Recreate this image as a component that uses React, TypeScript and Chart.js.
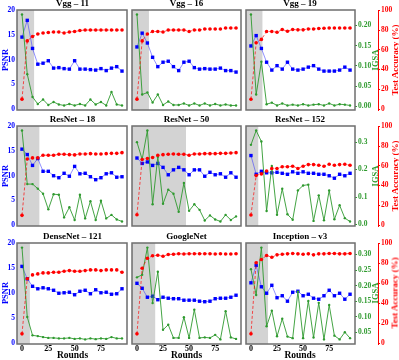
import React, { useEffect, useRef } from "react";
import { Chart, registerables } from "chart.js";

Chart.register(...registerables);

const SERIF = '"Liberation Serif", "Times New Roman", serif';

const rounds = [0, 5, 10, 15, 20, 25, 30, 35, 40, 45, 50, 55, 60, 65, 70, 75, 80, 85, 90, 95];
const roundTicks = [0, 25, 50, 75];
const psnrTicks = [0, 5, 10, 15, 20];
const accTicks = [0, 20, 40, 60, 80, 100];

// Vgg-11
const vgg11Psnr = [14.6, 18.0, 12.3, 9.1, 9.3, 9.8, 8.3, 8.4, 8.2, 8.1, 9.8, 8.1, 8.1, 8.0, 7.9, 8.2, 7.8, 8.3, 8.6, 7.7];
const vgg11Acc = [10, 69, 73.5, 76, 77, 77.5, 78, 78, 77, 78, 78.5, 79.5, 80, 80, 80, 80, 80, 80, 80, 80];
const vgg11Igsa = [0.192, 0.072, 0.026, 0.012, 0.021, 0.010, 0.016, 0.011, 0.009, 0.012, 0.009, 0.012, 0.009, 0.021, 0.011, 0.016, 0.009, 0.036, 0.011, 0.009];
const vgg11Shade = 11.5;

// Vgg-16
const vgg16Psnr = [12.6, 15.4, 13.4, 10.5, 8.6, 9.5, 9.7, 8.6, 7.8, 9.5, 9.7, 8.4, 8.1, 8.2, 8.1, 8.1, 8.3, 7.8, 7.8, 7.5];
const vgg16Acc = [10, 69, 76, 78.5, 78.5, 78, 80, 80, 80, 80, 78.5, 80, 80, 81, 81, 81, 81, 82, 82, 82];
const vgg16Igsa = [0.192, 0.031, 0.035, 0.015, 0.031, 0.010, 0.017, 0.010, 0.010, 0.013, 0.009, 0.013, 0.009, 0.013, 0.009, 0.012, 0.009, 0.011, 0.009, 0.009];
const vgg16Shade = 11.5;

// Vgg-19
const vgg19Psnr = [12.8, 14.9, 12.3, 9.5, 7.9, 8.8, 8.1, 9.5, 8.1, 7.9, 8.1, 8.5, 8.8, 8.1, 7.7, 7.7, 7.7, 7.9, 8.5, 7.9];
const vgg19Acc = [9.9, 67.2, 70.5, 78.5, 78.5, 77.8, 80.5, 78.8, 80.5, 80.2, 80.2, 81.1, 81.1, 81.5, 81.8, 82.1, 82.1, 82.1, 82.1, 82.1];
const vgg19Igsa = [0.227, 0.029, 0.110, 0.005, 0.009, 0.002, 0.007, 0.002, 0.004, 0.002, 0.005, 0.002, 0.004, 0.005, 0.002, 0.007, 0.002, 0.005, 0.004, 0.002];
const vgg19Shade = 11;
const vgg19IgsaTicks = [0, 0.05, 0.1, 0.15, 0.2];

// ResNet-18
const res18Psnr = [15.4, 14.3, 12.1, 13.5, 10.9, 10.9, 10.0, 9.6, 10.5, 9.9, 11.9, 10.4, 10.5, 9.8, 9.2, 9.6, 10.4, 10.6, 9.7, 9.8];
const res18Acc = [9.8, 66.8, 68, 68, 70.7, 70.7, 70.7, 71.7, 71.7, 71.3, 71, 72, 72, 72.3, 72, 72, 72.3, 72.6, 72.6, 73.3];
const res18Igsa = [0.190, 0.084, 0.084, 0.075, 0.065, 0.034, 0.064, 0.063, 0.018, 0.038, 0.013, 0.063, 0.016, 0.050, 0.013, 0.051, 0.016, 0.023, 0.014, 0.010];
const res18Shade = 16.5;

// ResNet-50
const res50Psnr = [13.6, 12.5, 12.8, 12.1, 12.5, 11.7, 10.2, 11.2, 11.7, 11.2, 10.2, 11.2, 11.2, 9.9, 10.7, 10.2, 10.4, 9.7, 10.6, 9.7];
const res50Acc = [10.4, 66.4, 67.4, 68.4, 70.7, 71.3, 71.7, 72, 71.7, 71.7, 70.7, 72, 72, 72.3, 72.3, 72.3, 72.6, 72.6, 73, 73.3];
const res50Igsa = [0.167, 0.133, 0.190, 0.044, 0.138, 0.045, 0.073, 0.065, 0.029, 0.086, 0.031, 0.044, 0.033, 0.012, 0.022, 0.014, 0.010, 0.023, 0.013, 0.020];
const res50Shade = 47;

// ResNet-152
const res152Psnr = [14.1, 10.3, 10.9, 10.6, 10.6, 10.7, 10.5, 10.3, 10.8, 10.5, 10.8, 10.5, 10.5, 10.3, 10.3, 10.0, 9.5, 10.3, 10.0, 10.5];
const res152Acc = [10.1, 50.2, 51.8, 54.7, 57.3, 57.3, 59, 59, 59.6, 57.3, 59.6, 61.2, 61.2, 60.6, 59.6, 61.6, 60.6, 61.2, 61.6, 60.6];
const res152Igsa = [0.290, 0.342, 0.302, 0.049, 0.213, 0.035, 0.130, 0.037, 0.017, 0.124, 0.142, 0.145, 0.013, 0.106, 0.015, 0.124, 0.019, 0.070, 0.023, 0.011];
const res152Shade = 7;
const res152IgsaTicks = [0, 0.1, 0.2, 0.3];

// DenseNet-121
const dense121Psnr = [15.4, 12.9, 11.4, 10.9, 11.1, 10.9, 10.6, 10.0, 10.1, 10.2, 9.7, 10.4, 10.6, 9.9, 10.7, 10.1, 10.2, 9.8, 9.9, 10.9];
const dense121Acc = [9.2, 64.4, 68.3, 69.3, 70.3, 70.3, 71, 71, 72, 72.6, 72, 72, 72.6, 73.3, 73.3, 72.6, 73.3, 73.3, 73.3, 71];
const dense121Igsa = [0.190, 0.054, 0.018, 0.0165, 0.0145, 0.013, 0.013, 0.012, 0.012, 0.013, 0.011, 0.012, 0.010, 0.012, 0.0105, 0.012, 0.011, 0.0145, 0.012, 0.012];
const dense121Shade = 7.5;

// GoogleNet
const googlePsnr = [12.0, 11.0, 9.2, 9.4, 8.7, 9.2, 9.0, 8.9, 8.9, 8.6, 8.6, 8.6, 8.4, 8.3, 8.4, 8.9, 9.0, 9.0, 9.2, 9.6];
const googleAcc = [9.2, 75, 85, 87.5, 88, 87, 88.8, 89, 89.5, 89.3, 89.5, 89.5, 89.5, 89.5, 89.5, 89.3, 89.5, 89.3, 89.3, 89.5];
const googleIgsa = [0.132, 0.137, 0.191, 0.081, 0.143, 0.028, 0.038, 0.012, 0.012, 0.053, 0.012, 0.068, 0.012, 0.013, 0.012, 0.018, 0.009, 0.065, 0.013, 0.010];
const googleShade = 17.5;

// Inception-v3
const incepPsnr = [12.1, 15.6, 11.3, 10.0, 11.6, 9.1, 9.5, 8.4, 10.2, 10.4, 9.5, 9.8, 9.0, 8.8, 9.5, 10.6, 9.5, 10.0, 8.8, 9.8];
const incepAcc = [9.2, 80.5, 83.8, 87.8, 86, 88.4, 89, 89.4, 89.8, 89.4, 89, 89.4, 88.4, 89.4, 89.4, 89.8, 89.8, 89.4, 89.4, 89.8];
const incepIgsa = [0.253, 0.170, 0.322, 0.070, 0.120, 0.038, 0.094, 0.037, 0.032, 0.181, 0.032, 0.151, 0.034, 0.145, 0.028, 0.138, 0.040, 0.028, 0.051, 0.032];
const incepShade = 16.4;
const incepIgsaTicks = [0.05, 0.1, 0.15, 0.2, 0.25, 0.3];

type PanelData = {
  title: string;
  psnr: number[];
  acc: number[];
  igsa: number[];
  shade: number;
  igsaTicks: number[];
  igsaDigits: number;
};

const panels: PanelData[] = [
  { title: "Vgg – 11", psnr: vgg11Psnr, acc: vgg11Acc, igsa: vgg11Igsa, shade: vgg11Shade, igsaTicks: [], igsaDigits: 2 },
  { title: "Vgg – 16", psnr: vgg16Psnr, acc: vgg16Acc, igsa: vgg16Igsa, shade: vgg16Shade, igsaTicks: [], igsaDigits: 2 },
  { title: "Vgg – 19", psnr: vgg19Psnr, acc: vgg19Acc, igsa: vgg19Igsa, shade: vgg19Shade, igsaTicks: vgg19IgsaTicks, igsaDigits: 2 },
  { title: "ResNet – 18", psnr: res18Psnr, acc: res18Acc, igsa: res18Igsa, shade: res18Shade, igsaTicks: [], igsaDigits: 2 },
  { title: "ResNet – 50", psnr: res50Psnr, acc: res50Acc, igsa: res50Igsa, shade: res50Shade, igsaTicks: [], igsaDigits: 2 },
  { title: "ResNet – 152", psnr: res152Psnr, acc: res152Acc, igsa: res152Igsa, shade: res152Shade, igsaTicks: res152IgsaTicks, igsaDigits: 1 },
  { title: "DenseNet – 121", psnr: dense121Psnr, acc: dense121Acc, igsa: dense121Igsa, shade: dense121Shade, igsaTicks: [], igsaDigits: 2 },
  { title: "GoogleNet", psnr: googlePsnr, acc: googleAcc, igsa: googleIgsa, shade: googleShade, igsaTicks: [], igsaDigits: 2 },
  { title: "Inception – v3", psnr: incepPsnr, acc: incepAcc, igsa: incepIgsa, shade: incepShade, igsaTicks: incepIgsaTicks, igsaDigits: 2 },
];

// plot-box layout (px)
const colLeft = [17, 131, 245];
const colRight = [128, 242, 355];
const rowTop = [9, 125, 242];
const rowBottom = [111, 227, 344];

const BLUE = "#0000ff";
const RED = "#ff0000";
const GREEN = "#2f9a2f";

function igsaRange(v: number[]) {
  const lo = Math.min(...v);
  const hi = Math.max(...v);
  const m = (hi - lo) * 0.05;
  return [lo - m, hi + m];
}

const bold = (size: number) => ({ family: SERIF, size, weight: "bold" as const });

function PanelChart({ p, row, col }: { p: PanelData; row: number; col: number }) {
  const ref = useRef<HTMLCanvasElement | null>(null);
  const PAD = 3;
  const showLeft = col === 0;
  const showRight = col === 2;
  const showBottom = row === 2;
  const leftW = showLeft ? 17 : 0;
  const igsaW = 23;
  const accW = 21;
  const rightW = showRight ? igsaW + accW : 0;
  const bottomW = showBottom ? 16 : 0;
  const boxL = colLeft[col];
  const boxR = colRight[col];
  const boxT = rowTop[row];
  const boxB = rowBottom[row];
  const left = boxL - leftW - PAD;
  const top = boxT - PAD;
  const width = boxR - boxL + leftW + rightW + 2 * PAD;
  const height = boxB - boxT + bottomW + 2 * PAD;

  useEffect(() => {
    const canvas = ref.current;
    if (!canvas) return;
    const [gMin, gMax] = igsaRange(p.igsa);
    const pts = (arr: number[]) => rounds.map((x, i) => ({ x, y: arr[i] }));
    const zeroPad = (s: any) => {
      s.paddingTop = 0;
      s.paddingBottom = 0;
      s.paddingLeft = 0;
      s.paddingRight = 0;
    };
    const shadePlugin = {
      id: "shadeFrame",
      beforeDatasetsDraw(chart: any) {
        const { ctx, chartArea: a, scales } = chart;
        const xe = scales.x.getPixelForValue(p.shade);
        ctx.save();
        ctx.fillStyle = "#d3d3d3";
        ctx.fillRect(a.left, a.top, xe - a.left, a.bottom - a.top);
        ctx.restore();
      },
      afterDatasetsDraw(chart: any) {
        const { ctx, chartArea: a } = chart;
        ctx.save();
        ctx.strokeStyle = "#6e6e6e";
        ctx.lineWidth = 1.5;
        ctx.strokeRect(a.left, a.top, a.right - a.left, a.bottom - a.top);
        ctx.restore();
      },
    };

    const chart = new Chart(canvas, {
      type: "line",
      data: {
        datasets: [
          {
            label: "Test Accuracy",
            data: pts(p.acc),
            yAxisID: "yAcc",
            borderColor: "rgba(255,0,0,0.75)",
            borderDash: [3, 2],
            borderWidth: 0.9,
            pointStyle: "circle",
            pointRadius: 1.8,
            pointBackgroundColor: RED,
            pointBorderColor: RED,
            pointBorderWidth: 0,
          },
          {
            label: "IGSA",
            data: pts(p.igsa),
            yAxisID: "yIgsa",
            borderColor: GREEN,
            borderWidth: 0.9,
            pointStyle: "circle",
            pointRadius: 1.2,
            pointBackgroundColor: GREEN,
            pointBorderColor: GREEN,
            pointBorderWidth: 0,
          },
          {
            label: "PSNR",
            data: pts(p.psnr),
            yAxisID: "y",
            borderColor: "rgba(50,50,255,0.6)",
            borderWidth: 0.9,
            pointStyle: "rect",
            pointRadius: 2.4,
            pointBackgroundColor: BLUE,
            pointBorderColor: BLUE,
            pointBorderWidth: 0,
          },
        ],
      },
      options: {
        animation: false,
        responsive: false,
        maintainAspectRatio: false,
        layout: { padding: PAD },
        plugins: { legend: { display: false }, tooltip: { enabled: false } },
        scales: {
          x: {
            type: "linear",
            min: -4.75,
            max: 99.75,
            display: showBottom,
            grid: { display: false, drawTicks: false, tickLength: 0 },
            border: { display: false },
            ticks: { color: "#000", font: bold(8), padding: 0, maxRotation: 0, autoSkip: false },
            afterBuildTicks: (s: any) => {
              s.ticks = roundTicks.map((v) => ({ value: v }));
            },
            afterFit: showBottom
              ? (s: any) => {
                  s.height = bottomW;
                  zeroPad(s);
                }
              : undefined,
          },
          y: {
            type: "linear",
            position: "left",
            min: -0.2,
            max: 20.1,
            display: showLeft,
            grid: { display: false, drawTicks: false, tickLength: 0 },
            border: { display: false },
            ticks: { color: BLUE, font: bold(7.5), padding: 2, autoSkip: false },
            afterBuildTicks: (s: any) => {
              s.ticks = psnrTicks.map((v) => ({ value: v }));
            },
            afterFit: showLeft
              ? (s: any) => {
                  s.width = leftW;
                  zeroPad(s);
                }
              : undefined,
          },
          yIgsa: {
            type: "linear",
            position: "right",
            weight: 0,
            min: gMin,
            max: gMax,
            display: showRight,
            grid: { display: true, drawOnChartArea: false, drawTicks: true, tickLength: 2, color: GREEN },
            border: { display: false },
            ticks: {
              color: GREEN,
              font: bold(7.5),
              padding: 1,
              autoSkip: false,
              callback: (v: any) => Number(v).toFixed(p.igsaDigits),
            },
            afterBuildTicks: (s: any) => {
              s.ticks = p.igsaTicks.map((v) => ({ value: v }));
            },
            afterFit: showRight
              ? (s: any) => {
                  s.width = igsaW;
                  zeroPad(s);
                }
              : undefined,
          },
          yAcc: {
            type: "linear",
            position: "right",
            weight: 1,
            min: -1,
            max: 100.3,
            display: showRight,
            grid: { display: true, drawOnChartArea: false, drawTicks: true, tickLength: 2, color: RED },
            border: { display: true, color: RED, width: 1 },
            ticks: { color: RED, font: bold(7.5), padding: 1, autoSkip: false },
            afterBuildTicks: (s: any) => {
              s.ticks = accTicks.map((v) => ({ value: v }));
            },
            afterFit: showRight
              ? (s: any) => {
                  s.width = accW;
                  zeroPad(s);
                }
              : undefined,
          },
        },
      } as any,
      plugins: [shadePlugin],
    });
    return () => chart.destroy();
  }, []);

  return (
    <canvas
      ref={ref}
      width={width}
      height={height}
      style={{ position: "absolute", left, top, width, height }}
    />
  );
}

function VLabel({ text, cx, cy, color, size }: { text: string; cx: number; cy: number; color: string; size: number }) {
  return (
    <div
      style={{
        position: "absolute",
        left: cx,
        top: cy,
        transform: "translate(-50%, -50%) rotate(-90deg)",
        color,
        fontSize: size,
        fontWeight: "bold",
        whiteSpace: "nowrap",
        lineHeight: 1,
        fontFamily: SERIF,
      }}
    >
      {text}
    </div>
  );
}

export default function App() {
  return (
    <div
      style={{
        position: "fixed",
        left: 0,
        top: 0,
        width: 399,
        height: 360,
        background: "#fff",
        overflow: "hidden",
        fontFamily: SERIF,
      }}
    >
      {panels.map((p, i) => (
        <PanelChart key={i} p={p} row={Math.floor(i / 3)} col={i % 3} />
      ))}
      {panels.map((p, i) => {
        const row = Math.floor(i / 3);
        const col = i % 3;
        const cx = (colLeft[col] + colRight[col]) / 2;
        return (
          <div
            key={"t" + i}
            style={{
              position: "absolute",
              left: cx,
              top: rowTop[row] - 10,
              transform: "translateX(-50%)",
              fontSize: 9,
              lineHeight: "9px",
              fontWeight: "bold",
              whiteSpace: "nowrap",
              color: "#000",
              fontFamily: SERIF,
            }}
          >
            {p.title}
          </div>
        );
      })}
      {rowTop.map((t, r) => {
        const cy = (t + rowBottom[r]) / 2;
        return (
          <React.Fragment key={"r" + r}>
            <VLabel text="PSNR" cx={4.5} cy={cy} color={BLUE} size={8.5} />
            <VLabel text="IGSA" cx={375} cy={cy} color={GREEN} size={8.5} />
            <VLabel text="Test Accuracy (%)" cx={394.5} cy={cy} color={RED} size={9} />
          </React.Fragment>
        );
      })}
      {colLeft.map((l, c) => (
        <div
          key={"x" + c}
          style={{
            position: "absolute",
            left: (l + colRight[c]) / 2,
            top: 351,
            transform: "translateX(-50%)",
            fontSize: 9.5,
            lineHeight: "9.5px",
            fontWeight: "bold",
            whiteSpace: "nowrap",
            color: "#000",
            fontFamily: SERIF,
          }}
        >
          Rounds
        </div>
      ))}
    </div>
  );
}
